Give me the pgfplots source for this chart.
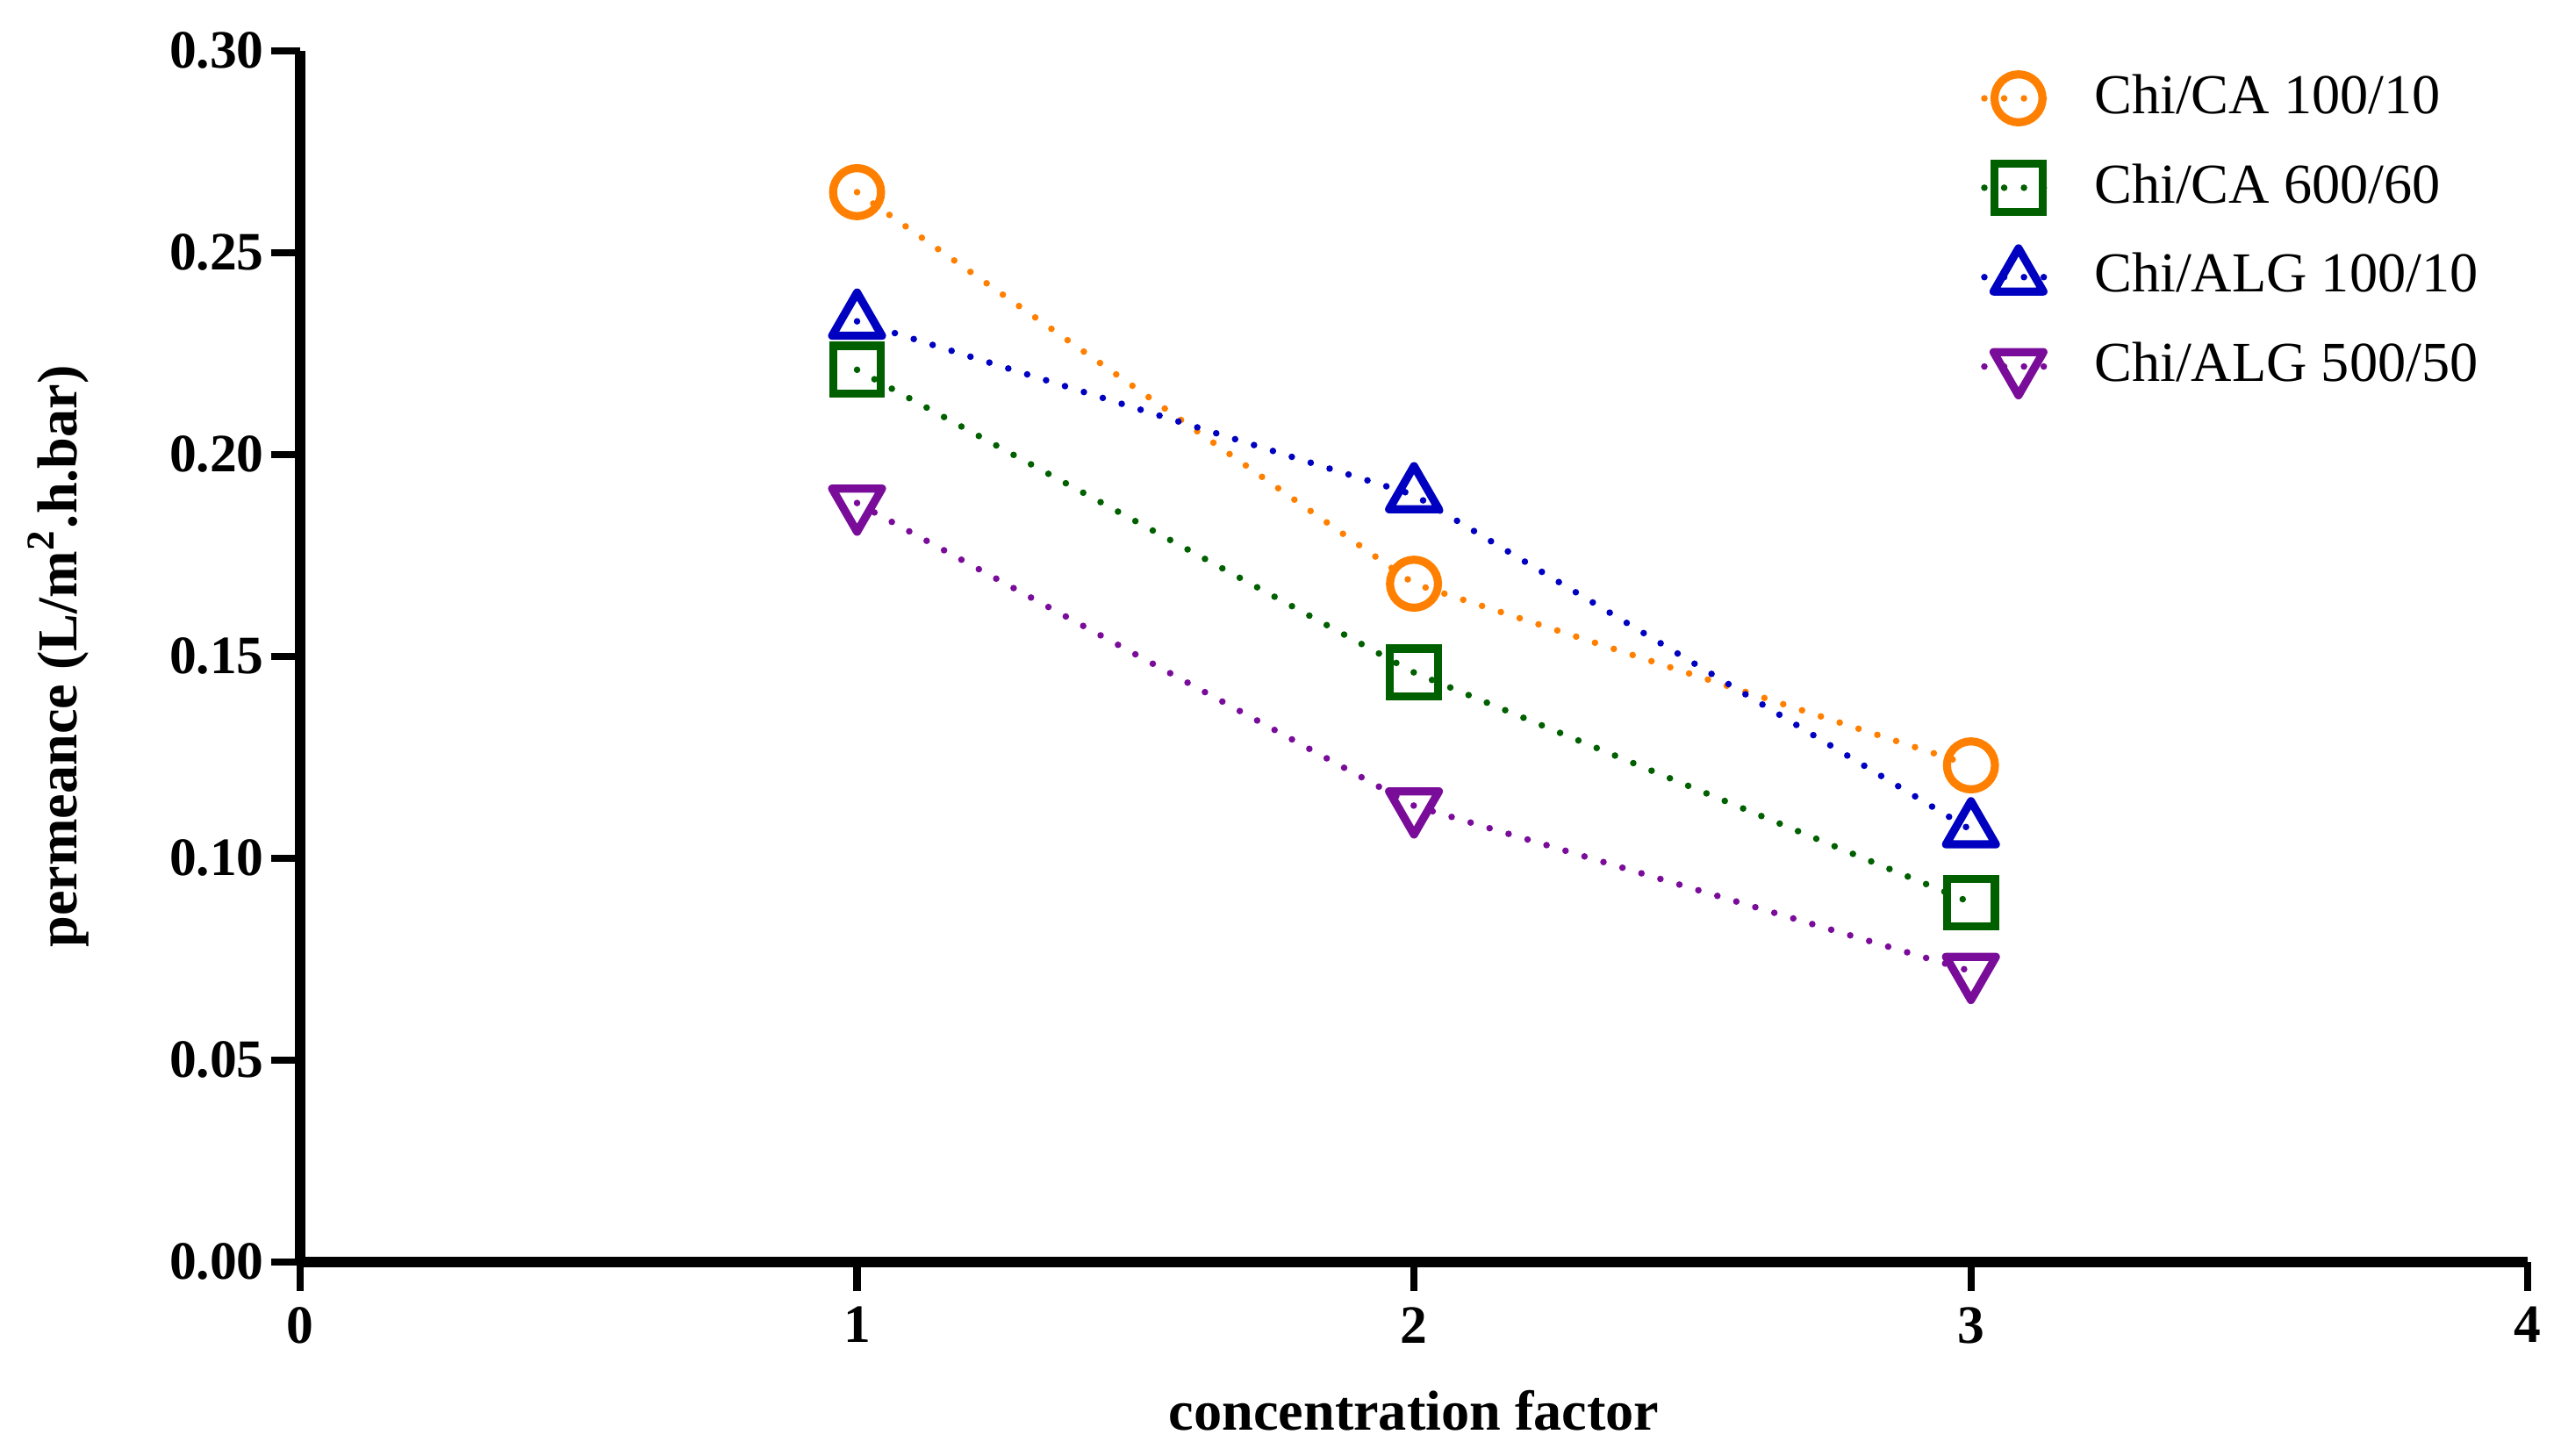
\documentclass[border=0pt]{standalone}
\usepackage{fontspec}
\setmainfont{Liberation Serif}
\usepackage{pgfplots}
\pgfplotsset{compat=1.18}
\definecolor{cOrange}{RGB}{255,128,0}
\definecolor{cGreen}{RGB}{0,96,0}
\definecolor{cBlue}{RGB}{0,0,192}
\definecolor{cPurple}{RGB}{122,12,154}
\begin{document}
\begin{tikzpicture}
\path[use as bounding box] (-1.758cm,-1.136cm) rectangle (13.244cm,7.392cm);
\begin{axis}[
  at={(0,0)}, anchor=origin,
  scale only axis, width=13.05cm, height=7.094cm,
  xmin=0, xmax=4, ymin=0, ymax=0.30,
  clip=false,
  axis lines=left,
  axis line style={line width=1.75pt, -},
  xtick={0,1,2,3,4},
  ytick={0,0.05,0.10,0.15,0.20,0.25,0.30},
  tick align=outside,
  major tick length=0.17cm,
  tick style={line width=1.2pt, black},
  /pgf/number format/assume math mode=true,
  tick label style={font=\fontsize{9}{11}\selectfont\bfseries},
  yticklabel style={inner xsep=1pt, /pgf/number format/.cd, fixed, fixed zerofill, precision=2},
  xticklabel style={inner ysep=2.5pt},
  xlabel={concentration factor},
  ylabel={permeance (L/m\textsuperscript{2}.h.bar)},
  label style={font=\fontsize{9.4}{11}\selectfont\bfseries},
  xlabel style={at={(axis description cs:0.5,-0.1225)}, anchor=center},
  ylabel style={at={(axis description cs:-0.1086,0.5)}, anchor=center},
  legend cell align=left,
  legend style={draw=none, fill=none, at={(axis description cs:0.754,0.994)}, anchor=north west,
    inner sep=0pt, font=\fontsize{9.4}{11}\selectfont, row sep=1.9pt,
    nodes={text height=0.7em, text depth=0.2em},
    /tikz/every odd column/.append style={column sep=0.154cm}},
  legend image code/.code={\draw[mark repeat=2,mark phase=2] plot coordinates {(0cm,0cm) (0.2cm,0cm) (0.4cm,0cm)};},
  every axis plot/.append style={line width=1.1pt, dash pattern=on 0pt off 3.3pt, line cap=round},
]
\addplot[cOrange, mark=o, mark size=4pt, mark options={solid, line width=1.35pt}]
  coordinates {(1,0.265) (2,0.168) (3,0.123)};
\addlegendentry{Chi/CA 100/10}
\addplot[cGreen, mark=square, mark size=4pt, mark options={solid, line width=1.35pt, line join=miter}]
  coordinates {(1,0.221) (2,0.146) (3,0.089)};
\addlegendentry{Chi/CA 600/60}
\addplot[cBlue, mark=triangle, mark size=4.8pt, mark options={solid, line width=1.35pt, line join=round}]
  coordinates {(1,0.233) (2,0.190) (3,0.107)};
\addlegendentry{Chi/ALG 100/10}
\addplot[cPurple, mark=triangle, mark size=4.8pt, mark options={solid, rotate=180, line width=1.35pt, line join=round}]
  coordinates {(1,0.188) (2,0.113) (3,0.072)};
\addlegendentry{Chi/ALG 500/50}
\end{axis}
\end{tikzpicture}
\end{document}
